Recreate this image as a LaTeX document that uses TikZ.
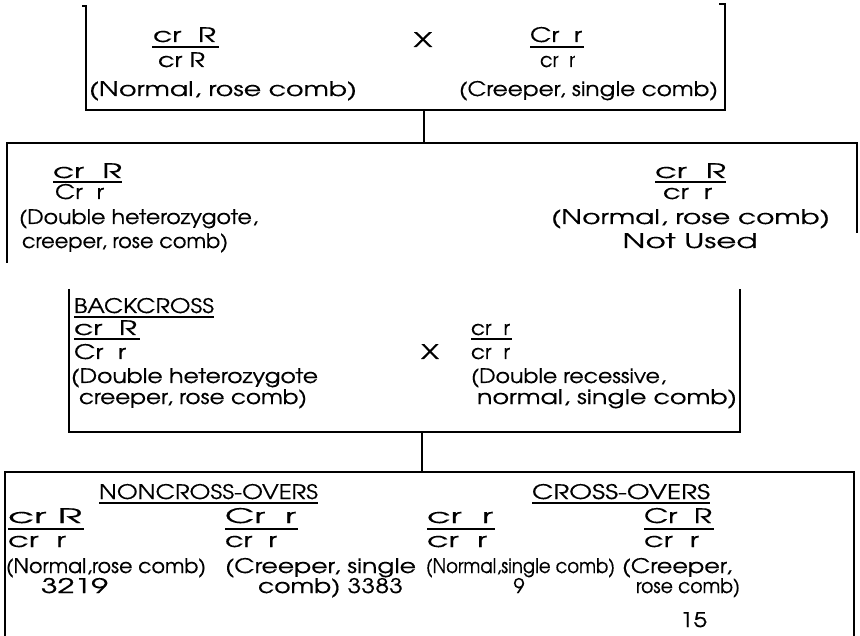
\documentclass[tikz,border=0pt]{standalone}
\usepackage{fontspec}
\setmainfont{TeX Gyre Adventor}[FakeBold=0.4]
\usepackage{graphicx}
\newcommand\tw[2]{\resizebox{#1pt}{\height}{#2}}
\begin{document}
\begin{tikzpicture}[x=1pt,y=-1pt,
  tx/.style={inner sep=0pt, outer sep=0pt, anchor=base west, font=\fontsize{20}{22}\selectfont},
  txc/.style={tx, anchor=base},
  boxline/.style={line width=1.6pt},
  fbar/.style={line width=2.2pt},
  uline/.style={line width=1.6pt}]
\fill[white] (0,0) rectangle (860,636);
\useasboundingbox (0,0) rectangle (860,636);

% ---------- box 1 ----------
\draw[boxline] (82,6) -- (86,6) -- (86,110) -- (725,110) -- (725,4) -- (719,4);
\node[tx] (t1a) at (153,42) {\tw{63}{cr\ \ R}};
\node[tx] (t1b) at (158,67) {\tw{47}{cr R}};
\node[tx] (t1c) at (89,96) {\tw{268}{(Normal, rose comb)}};
\node[txc] (x1) at (423,47) {\tw{19}{X}};
\node[tx] (t1d) at (530,42) {\tw{52}{Cr\ \ r}};
\node[tx] (t1e) at (540,67) {\tw{35}{cr\ \ r}};
\node[tx] (t1f) at (459,96) {\tw{259}{(Creeper, single comb)}};
\draw[fbar] ([xshift=-1pt,yshift=-5pt]t1a.base west) -- ([xshift=3pt,yshift=-5pt]t1a.base east);
\draw[fbar] ([yshift=-5pt]t1d.base west) -- ([xshift=2pt,yshift=-5pt]t1d.base east);

\coordinate (b1bot) at (424,110);
\coordinate (b2top) at (424,143);
\draw[boxline] (b1bot) -- (b2top);

% ---------- box 2 ----------
\draw[boxline] (7,263) -- (7,143) -- (857,143) -- (857,233);
\node[tx] (t2a) at (53,178) {\tw{69}{cr\ \ R}};
\node[tx] (t2b) at (55,199) {\tw{49}{Cr\ \ r}};
\node[tx] (t2c) at (19,224) {\tw{239}{(Double heterozygote,}};
\node[tx] (t2d) at (22,248) {\tw{206}{creeper, rose comb)}};
\node[tx] (t2e) at (655,178) {\tw{71}{cr\ \ R}};
\node[tx] (t2f) at (663,199) {\tw{49}{cr\ \ r}};
\node[tx] (t2g) at (551,224) {\tw{279}{(Normal, rose comb)}};
\node[txc] (t2h) at (690,248) {\tw{135}{Not Used}};
\draw[fbar] ([yshift=-4pt]t2a.base west) -- ([yshift=-4pt]t2a.base east);
\draw[fbar] ([yshift=-4pt]t2e.base west) -- ([yshift=-4pt]t2e.base east);

% ---------- box 3 ----------
\draw[boxline] (69,289) -- (69,432) -- (740,432) -- (740,289);
\node[tx] (t3h) at (74,313) {\tw{140}{BACKCROSS}};
\draw[uline] ([yshift=-4pt]t3h.base west) -- ([yshift=-4pt]t3h.base east);
\node[tx] (t3a) at (74,335) {\tw{63}{cr\ \ R}};
\node[tx] (t3b) at (74,359) {\tw{52}{Cr\ \ r}};
\node[tx] (t3c) at (71,383) {\tw{247}{(Double heterozygote}};
\node[tx] (t3d) at (79,404) {\tw{228}{creeper, rose comb)}};
\node[txc] (x3) at (430,359) {\tw{18}{X}};
\node[tx] (t3e) at (471,335) {\tw{39}{cr\ \ r}};
\node[tx] (t3f) at (471,359) {\tw{39}{cr\ \ r}};
\node[tx] (t3g) at (471,383) {\tw{195}{(Double recessive,}};
\node[tx] (t3i) at (477,404) {\tw{260}{normal, single comb)}};
\draw[fbar] ([yshift=-4pt]t3a.base west) -- ([xshift=3pt,yshift=-4pt]t3a.base east);
\draw[fbar] ([yshift=-4pt]t3e.base west) -- ([xshift=2pt,yshift=-4pt]t3e.base east);

\coordinate (b3bot) at (422,432);
\coordinate (b4top) at (422,472);
\draw[boxline] (b3bot) -- (b4top);

% ---------- box 4 ----------
\draw[boxline] (5,636) -- (5,472) -- (854,472) -- (854,636);
\node[tx] (h4a) at (99,499) {\tw{219}{NONCROSS-OVERS}};
\node[tx] (h4b) at (532,499) {\tw{178}{CROSS-OVERS}};
\draw[uline] ([yshift=-4pt]h4a.base west) -- ([yshift=-4pt]h4a.base east);
\draw[uline] ([yshift=-4pt]h4b.base west) -- ([yshift=-4pt]h4b.base east);

\node[tx] (c1a) at (8,523) {\tw{74}{cr\ R}};
\node[tx] (c1b) at (8,547) {\tw{58}{cr\ \ r}};
\node[tx] (c1c) at (6,573) {\tw{200}{(Normal,rose comb)}};
\node[tx] (c1d) at (41,593) {\tw{67}{3219}};
\draw[fbar] ([yshift=-6pt]c1a.base west) -- ([xshift=2pt,yshift=-6pt]c1a.base east);

\node[tx] (c2a) at (225,523) {\tw{71}{Cr\ \ r}};
\node[tx] (c2b) at (225,547) {\tw{52}{cr\ \ r}};
\node[tx] (c2c) at (225,573) {\tw{191}{(Creeper, single}};
\node[tx] (c2d) at (258,593) {\tw{145}{comb) 3383}};
\draw[fbar] ([yshift=-6pt]c2a.base west) -- ([xshift=2pt,yshift=-6pt]c2a.base east);

\node[tx] (c3a) at (427,523) {\tw{66}{cr\ \ r}};
\node[tx] (c3b) at (427,547) {\tw{60}{cr\ \ r}};
\node[tx] (c3c) at (426,573) {\tw{189}{(Normal,single comb)}};
\node[txc] (c3d) at (519,593) {9};
\draw[fbar] ([yshift=-6pt]c3a.base west) -- ([xshift=2pt,yshift=-6pt]c3a.base east);

\node[tx] (c4a) at (644,523) {\tw{68}{Cr\ \ R}};
\node[tx] (c4b) at (644,547) {\tw{55}{cr\ \ r}};
\node[tx] (c4c) at (622,573) {\tw{110}{(Creeper,}};
\node[tx] (c4d) at (636,593) {\tw{104}{rose comb)}};
\node[tx] (c4e) at (680,627) {\tw{27}{15}};
\draw[fbar] ([yshift=-6pt]c4a.base west) -- ([xshift=2pt,yshift=-6pt]c4a.base east);
\end{tikzpicture}
\end{document}
